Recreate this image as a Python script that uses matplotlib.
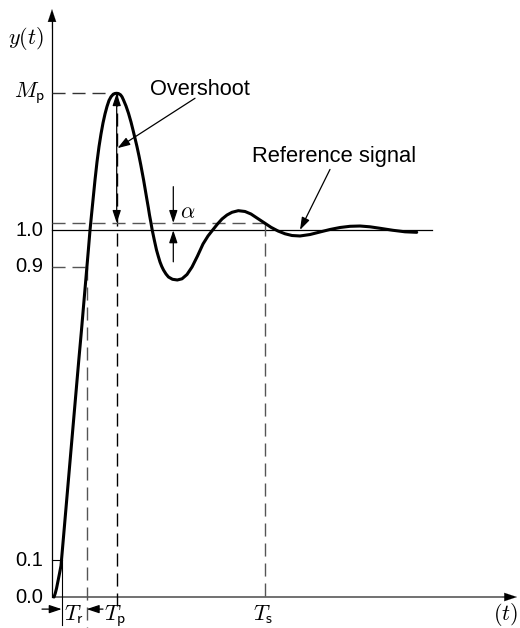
import matplotlib
matplotlib.use("Agg")
import matplotlib.pyplot as plt

plt.rcParams['mathtext.fontset'] = 'cm'
plt.rcParams['font.family'] = ['Liberation Sans', 'DejaVu Sans']

# ---- data (time in arbitrary units) ----
t_curve = [0.20, 0.32, 0.45, 0.60, 0.75, 0.90, 1.15, 1.40, 1.65, 1.90,
           2.16, 2.42, 2.68, 2.95, 3.21, 3.47, 3.64, 3.80, 3.95, 4.10,
           4.30, 4.50, 4.70, 4.90, 5.10, 5.30, 5.50, 5.70, 5.90, 6.10,
           6.30, 6.47, 6.65, 6.85, 7.00, 7.15, 7.40, 7.65, 7.90, 8.10,
           8.30, 8.50, 8.70, 8.88, 9.02, 9.16, 9.33, 9.50, 9.63, 9.75,
           9.89, 10.02, 10.23, 10.45, 10.62, 10.80, 10.97, 11.15, 11.40, 11.65,
           12.05, 12.53, 13.00, 13.50, 14.00, 14.55, 15.10, 15.60, 16.07, 16.55,
           17.00, 17.50, 18.00, 18.63, 19.30, 19.90, 20.50, 21.30, 21.90, 22.60,
           23.30, 24.00, 24.80, 25.80, 26.80, 27.80, 28.80, 29.80, 30.80, 31.80,
           32.80, 34.10, 35.30, 36.47]
y_curve = [0.0000, 0.0095, 0.0232, 0.0436, 0.0641, 0.0854, 0.1636, 0.2427, 0.3218, 0.4009,
           0.4827, 0.5645, 0.6463, 0.7281, 0.8113, 0.8936, 0.9476, 1.0000, 1.0417, 1.0826,
           1.1372, 1.1863, 1.2280, 1.2626, 1.2926, 1.3172, 1.3376, 1.3540, 1.3641, 1.3703,
           1.3731, 1.3736, 1.3728, 1.3695, 1.3641, 1.3553, 1.3390, 1.3191, 1.2953, 1.2735,
           1.2509, 1.2280, 1.2026, 1.1781, 1.1576, 1.1372, 1.1099, 1.0826, 1.0622, 1.0417,
           1.0213, 1.0008, 0.9735, 0.9463, 0.9299, 0.9136, 0.9018, 0.8917, 0.8808, 0.8726,
           0.8664, 0.8645, 0.8677, 0.8795, 0.8999, 0.9299, 0.9626, 0.9845, 1.0008, 1.0172,
           1.0308, 1.0417, 1.0491, 1.0535, 1.0513, 1.0444, 1.0335, 1.0191, 1.0082, 0.9981,
           0.9905, 0.9858, 0.9845, 0.9885, 0.9954, 1.0022, 1.0076, 1.0109, 1.0117, 1.0095,
           1.0055, 1.0000, 0.9959, 0.9945]

ytick_values = [0.0, 0.1, 0.9, 1.0]
ytick_labels = ['0.0', '0.1', '0.9', '1.0']

reference_level = 1.0
reference_end = 38.0
M_p = 1.374
alpha_level = 1.02
T_r_start = 0.97
T_r_end = 3.47
T_p = 6.47
T_s = 21.27

# ---- figure ----
fig = plt.figure(figsize=(5.2, 6.28), dpi=100)
ax = fig.add_axes([0, 0, 1, 1])
ax.set_xlim(-5.2, 46.8)
ax.set_ylim(-0.0845, 1.628)
ax.axis('off')

dash = (0, (9.4, 5.0))
grey = '#555555'


def arrow(x0, y0, x1, y1, hl=0.75, hw=0.25, lw=0.9, color='k', style='-|>'):
    ax.annotate('', xy=(x1, y1), xytext=(x0, y0),
                arrowprops=dict(arrowstyle=f'{style},head_length={hl},head_width={hw}',
                                lw=lw, color=color, shrinkA=0, shrinkB=0,
                                mutation_scale=10))


# axes
ax.plot([0, 45.6], [0, 0], color='#666666', lw=1.3, solid_capstyle='butt')
arrow(45.0, 0, 46.5, 0, hl=0.9, hw=0.3, lw=0.1)
ax.plot([0, 0], [0, 1.58], color='k', lw=0.9)
arrow(0, 1.55, 0, 1.603, hl=0.9, hw=0.3, lw=0.1)

# reference line
ax.plot([0, reference_end], [reference_level, reference_level], color='k', lw=0.9)

# guide lines
ax.plot([0, T_p], [M_p, M_p], color='#333333', lw=1.0, linestyle=dash)
ax.plot([T_p, T_p], [M_p, -0.025], color='k', lw=1.0, linestyle=dash)
ax.plot([0, T_r_end], [0.9, 0.9], color=grey, lw=1.0, linestyle=dash)
ax.plot([T_r_end, T_r_end], [0.9, -0.085], color=grey, lw=1.0, linestyle=dash)
ax.plot([0, T_r_start], [0.1, 0.1], color='k', lw=0.8)
ax.plot([T_r_start, T_r_start], [0.1, -0.075], color='k', lw=0.8)
ax.plot([0, T_s], [alpha_level, alpha_level], color=grey, lw=1.0, linestyle=dash)
ax.plot([T_s, T_s], [alpha_level, 0], color=grey, lw=1.0, linestyle=dash)

# response curve
ax.plot(t_curve, y_curve, color='k', lw=2.2, solid_capstyle='round', solid_joinstyle='round')

# tick labels
for v, lab in zip(ytick_values, ytick_labels):
    ax.text(-0.9, v, lab, ha='right', va='center', fontsize=14.5)

ax.text(-0.7, M_p, r'$M_\mathsf{p}$', ha='right', va='center', fontsize=16)
ax.text(-2.6, 1.524, r'$y(t)$', ha='center', va='center', fontsize=16)

# overshoot double arrow
arrow(T_p, 1.20, T_p, M_p)
arrow(T_p, 1.20, T_p, alpha_level)
ax.text(9.8, 1.369, 'Overshoot', ha='left', va='baseline', fontsize=15.7)
arrow(14.3, 1.360, 6.55, 1.224)

# alpha arrows
arrow(12.13, 1.119, 12.13, alpha_level)
arrow(12.13, 0.914, 12.13, reference_level)
ax.text(12.8, 1.033, r'$\alpha$', ha='left', va='baseline', fontsize=16)

# reference signal
ax.text(19.97, 1.187, 'Reference signal', ha='left', va='baseline', fontsize=15.8)
arrow(27.8, 1.166, 24.8, 1.001)

# time labels
arrow(-1.0, -0.033, T_r_start, -0.033)
arrow(5.1, -0.033, T_r_end, -0.033)
ax.text(1.15, -0.062, r'$T_\mathsf{r}$', ha='left', va='baseline', fontsize=16)
ax.text(5.15, -0.062, r'$T_\mathsf{p}$', ha='left', va='baseline', fontsize=16)
ax.text(20.1, -0.062, r'$T_\mathsf{s}$', ha='left', va='baseline', fontsize=16)
ax.text(46.6, -0.062, r'$(t)$', ha='right', va='baseline', fontsize=16)

fig.savefig('out.png', dpi=100)
